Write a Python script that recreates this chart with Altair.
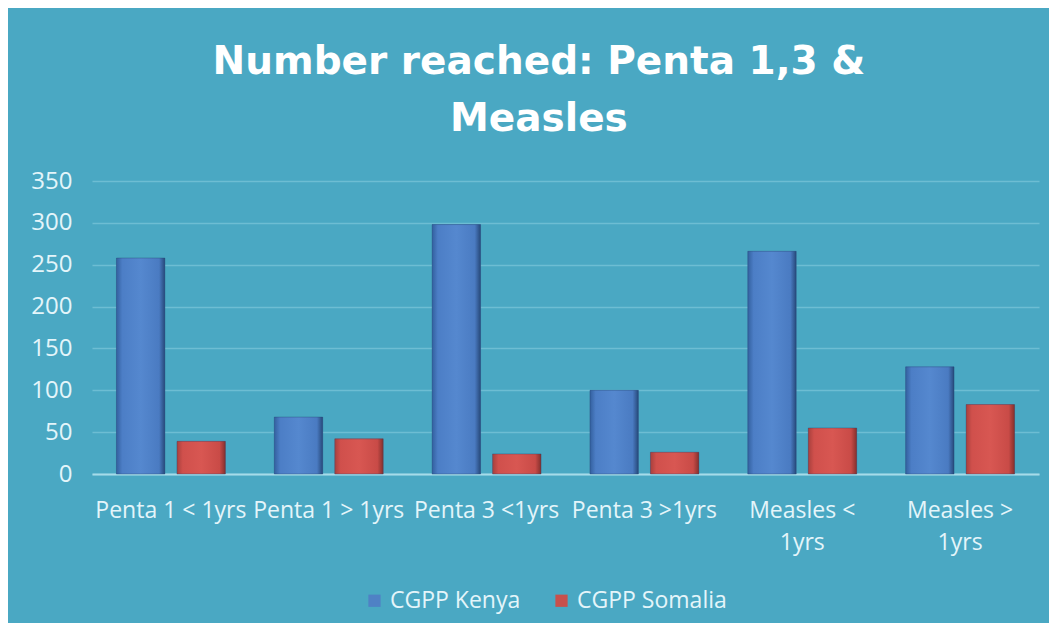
import altair as alt
import pandas as pd

categories = ["Penta 1 < 1yrs", "Penta 1 > 1yrs", "Penta 3 <1yrs",
              "Penta 3 >1yrs", "Measles < 1yrs", "Measles > 1yrs"]
series_names = ["CGPP Kenya", "CGPP Somalia"]
kenya = [258, 68, 298, 100, 266, 128]
somalia = [39, 42, 24, 26, 55, 83]
y_ticks = [0, 50, 100, 150, 200, 250, 300, 350]

rows = []
for c, k, s in zip(categories, kenya, somalia):
    rows.append({"category": c, "series": series_names[0], "value": k})
    rows.append({"category": c, "series": series_names[1], "value": s})
df = pd.DataFrame(rows)

BG = "#4AA8C3"
LABEL = "#E4F5FA"
FONT = "Open Sans"

blue_grad = alt.LinearGradient(
    gradient="linear", x1=0, x2=1, y1=0, y2=0,
    stops=[alt.GradientStop(offset=0, color="#33609f"),
           alt.GradientStop(offset=0.12, color="#4c7ec6"),
           alt.GradientStop(offset=0.5, color="#5588cf"),
           alt.GradientStop(offset=0.88, color="#4a7bc2"),
           alt.GradientStop(offset=1, color="#27497a")])
red_grad = alt.LinearGradient(
    gradient="linear", x1=0, x2=1, y1=0, y2=0,
    stops=[alt.GradientStop(offset=0, color="#a8403d"),
           alt.GradientStop(offset=0.12, color="#d0504c"),
           alt.GradientStop(offset=0.5, color="#d85752"),
           alt.GradientStop(offset=0.88, color="#c94b47"),
           alt.GradientStop(offset=1, color="#84302d")])

x_enc = alt.X("category:N", sort=categories, title=None,
              scale=alt.Scale(paddingInner=0.31, paddingOuter=0.155),
              axis=alt.Axis(labelAngle=0, labelColor=LABEL, labelFont=FONT,
                            labelFontSize=23, labelPadding=25, ticks=False,
                            domain=True, domainColor="#A6DBE9", domainWidth=2,
                            labelLimit=300, labelLineHeight=32,
                            labelBaseline="top",
                            labelExpr="indexof(datum.value, 'Measles') == 0 ? [slice(datum.value, 0, 9), slice(datum.value, 10)] : datum.value"))
y_enc = alt.Y("value:Q", title=None,
              scale=alt.Scale(domain=[0, 350], nice=False),
              axis=alt.Axis(values=y_ticks, labelColor=LABEL, labelFont=FONT,
                            labelFontSize=24, labelPadding=20, ticks=False,
                            domain=False, grid=True, gridColor="#6DBDD3",
                            gridWidth=1.5))
off_enc = alt.XOffset("series:N", sort=series_names,
                      scale=alt.Scale(paddingInner=0.2, paddingOuter=0))

base = alt.Chart(df)

legend_layer = base.mark_bar().encode(
    x=x_enc, y=y_enc, xOffset=off_enc,
    color=alt.Color("series:N", sort=series_names,
                    scale=alt.Scale(domain=series_names, range=["#4F81C5", "#C8504C"]),
                    legend=alt.Legend(title=None, orient="none", direction="horizontal",
                                      legendX=271, legendY=408,
                                      labelColor=LABEL, labelFont=FONT,
                                      labelFontSize=23, symbolType="square",
                                      symbolSize=150, symbolStrokeWidth=0,
                                      columnPadding=29, labelOffset=4)),
)

bars = base.mark_bar(stroke="#23446f", strokeWidth=0.6, strokeOpacity=0.6).encode(
    x=x_enc, y=y_enc, xOffset=off_enc,
    fill=alt.condition(alt.datum.series == "CGPP Kenya",
                       alt.value(blue_grad), alt.value(red_grad)),
)

chart = alt.layer(legend_layer, bars).properties(
    width=947, height=293,
    background=BG,
    padding={"left": 22, "top": 35, "right": 10, "bottom": 10},
    title=alt.TitleParams(
        text=["Number reached: Penta 1,3 &", "Measles"],
        font="DejaVu Sans", fontWeight="bold", fontSize=39, color="white",
        lineHeight=57, anchor="middle", frame="bounds", offset=30, dx=4),
).configure_view(stroke=None)

chart.save("out.html", embed_options={"renderer": "svg", "actions": False})
